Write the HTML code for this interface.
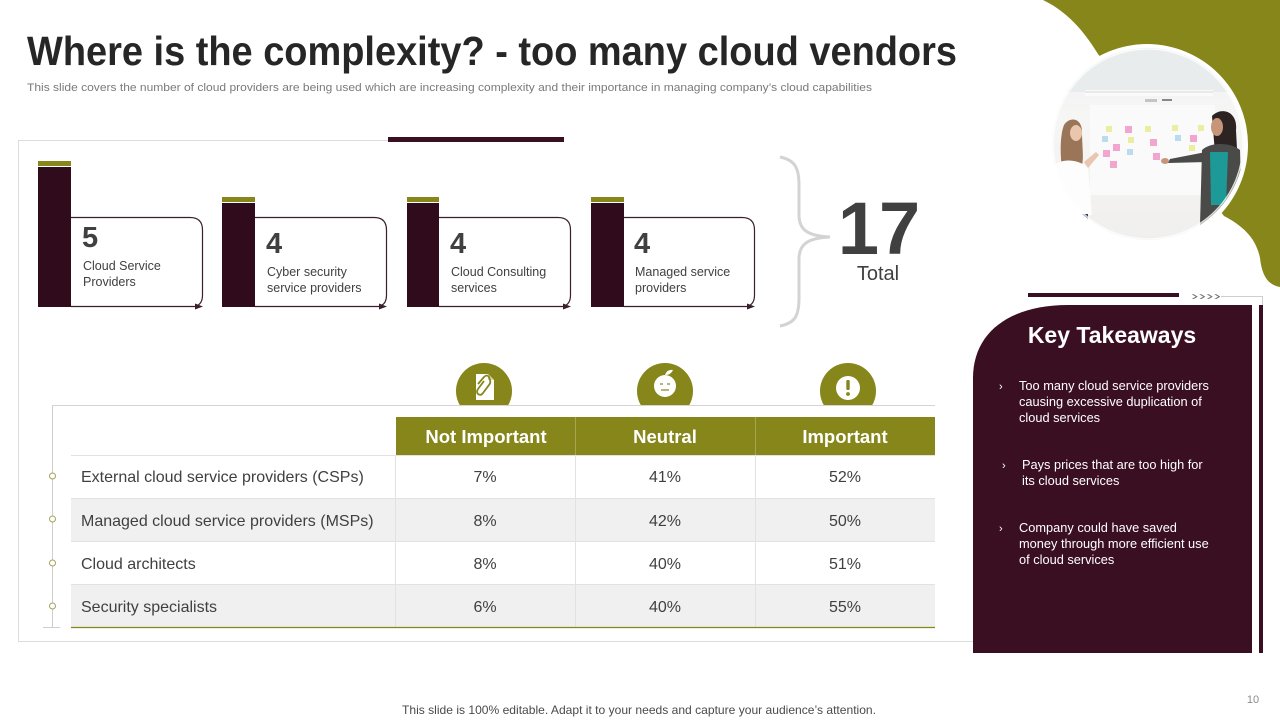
<!DOCTYPE html>
<html><head><meta charset="utf-8"><style>
html,body{margin:0;padding:0;background:#fff;}
body{width:1280px;height:720px;overflow:hidden;}
svg{display:block;}
</style></head><body>
<svg width="1280" height="720" viewBox="0 0 1280 720" xmlns="http://www.w3.org/2000/svg" font-family="'Liberation Sans', Arial, sans-serif">
<defs>
<clipPath id="ph"><circle cx="1148" cy="144" r="96"/></clipPath>
<clipPath id="ic"><rect x="0" y="0" width="1280" height="405"/></clipPath>
<linearGradient id="pg" x1="0" y1="0" x2="0" y2="1">
<stop offset="0" stop-color="#eef0f0"/><stop offset="0.35" stop-color="#f6f6f5"/><stop offset="1" stop-color="#efeeed"/>
</linearGradient>
</defs>

<!-- olive blob -->
<path d="M1043,0 L1280,0 L1280,287 C1268,285 1262,276 1260,258 C1256,238 1243,226 1224,216 L1098,54 C1088,38 1072,14 1043,0 Z" fill="#86861b"/>
<circle cx="1147" cy="145" r="101" fill="#fff"/>
<g clip-path="url(#ph)">
<rect x="1040" y="40" width="220" height="220" fill="url(#pg)"/>
<rect x="1040" y="40" width="220" height="52" fill="#e8ecec"/>
<rect x="1085" y="90" width="128" height="6" fill="#fafafa"/>
<line x1="1085" y1="92" x2="1213" y2="92" stroke="#d6d9da" stroke-width="1"/>
<rect x="1145" y="99" width="12" height="3" fill="#c4c4c4"/>
<rect x="1162" y="99" width="10" height="2" fill="#888"/>
<rect x="1090" y="105" width="125" height="90" fill="#fafafa"/>
<g fill="#f2a6cf">
<rect x="1125" y="126" width="7" height="7"/><rect x="1113" y="144" width="7" height="7"/><rect x="1103" y="150" width="7" height="7"/><rect x="1110" y="161" width="7" height="7"/><rect x="1150" y="139" width="7" height="7"/><rect x="1153" y="153" width="7" height="7"/><rect x="1190" y="135" width="7" height="7"/>
</g>
<g fill="#e9ef9f">
<rect x="1106" y="126" width="6" height="6"/><rect x="1128" y="137" width="6" height="6"/><rect x="1145" y="126" width="6" height="6"/><rect x="1172" y="125" width="6" height="6"/><rect x="1189" y="145" width="6" height="6"/><rect x="1198" y="125" width="6" height="6"/>
</g>
<g fill="#b9dcef">
<rect x="1102" y="136" width="6" height="6"/><rect x="1127" y="149" width="6" height="6"/><rect x="1175" y="135" width="6" height="6"/>
</g>
<!-- left woman -->
<path d="M1064,125 C1070,116 1082,118 1082,132 C1082,148 1085,162 1080,170 L1062,168 C1060,155 1060,135 1064,125 Z" fill="#9a7558"/>
<ellipse cx="1076" cy="133" rx="6" ry="8" fill="#e9c6ad"/>
<path d="M1052,168 C1058,158 1078,158 1088,168 L1092,215 L1050,218 Z" fill="#fdfdfd"/>
<path d="M1084,162 L1096,152 L1099,155 L1088,168 Z" fill="#e9c6ad"/>
<rect x="1070" y="214" width="18" height="30" fill="#35405a"/>
<!-- right woman -->
<path d="M1212,116 C1222,106 1238,112 1236,130 L1238,168 L1216,166 Z" fill="#2c2422"/>
<ellipse cx="1217" cy="127" rx="6" ry="9" fill="#c79577"/>
<path d="M1202,150 C1212,141 1232,143 1240,150 L1242,225 L1200,225 Z" fill="#4a4a48"/>
<path d="M1210,152 L1228,152 L1226,205 L1211,205 Z" fill="#1d9a97"/>
<path d="M1206,152 L1170,159 L1168,163 L1207,162 Z" fill="#4a4a48"/>
<ellipse cx="1165" cy="161" rx="4" ry="3" fill="#c79577"/>
</g>
<circle cx="1148" cy="144" r="95" fill="none" stroke="#fff" stroke-width="1.5" opacity="0.8"/>

<!-- title -->
<text x="27" y="65" font-size="41" font-weight="bold" fill="#262626" textLength="930" lengthAdjust="spacingAndGlyphs">Where is the complexity? - too many cloud vendors</text>
<text x="27" y="91" font-size="11" fill="#7a7a7a" textLength="845" lengthAdjust="spacingAndGlyphs">This slide covers the number of cloud providers are being used which are increasing complexity and their importance in managing company’s cloud capabilities</text>

<!-- outer panel -->
<line x1="18" y1="140.5" x2="388" y2="140.5" stroke="#dcdcdc" stroke-width="1"/>
<line x1="18.5" y1="140" x2="18.5" y2="641" stroke="#dcdcdc" stroke-width="1"/>
<line x1="18" y1="641.5" x2="975" y2="641.5" stroke="#dcdcdc" stroke-width="1"/>
<rect x="388" y="137" width="176" height="5" fill="#3a0f22"/>

<!-- cards -->
<g stroke="#3a1f2c" stroke-width="1.2" fill="none">
<path d="M71,217.5 H190 Q202.5,217.5 202.5,230 V295 Q202.5,304 196,306"/>
<path d="M255,217.5 H374 Q386.5,217.5 386.5,230 V295 Q386.5,304 380,306"/>
<path d="M439,217.5 H558 Q570.5,217.5 570.5,230 V295 Q570.5,304 564,306"/>
<path d="M624,217.5 H742 Q754.5,217.5 754.5,230 V295 Q754.5,304 748,306"/>
<line x1="71" y1="306.5" x2="197" y2="306.5"/>
<line x1="255" y1="306.5" x2="381" y2="306.5"/>
<line x1="439" y1="306.5" x2="565" y2="306.5"/>
<line x1="624" y1="306.5" x2="749" y2="306.5"/>
</g>
<g fill="#3a1f2c">
<polygon points="195,303.5 203,306.5 195,309.5"/>
<polygon points="379,303.5 387,306.5 379,309.5"/>
<polygon points="563,303.5 571,306.5 563,309.5"/>
<polygon points="747,303.5 755,306.5 747,309.5"/>
</g>
<g fill="#86861b">
<rect x="38" y="161" width="33" height="5"/>
<rect x="222" y="197" width="33" height="5"/>
<rect x="407" y="197" width="32" height="5"/>
<rect x="591" y="197" width="33" height="5"/>
</g>
<g fill="#2f0b1b">
<rect x="38" y="167" width="33" height="140"/>
<rect x="222" y="203" width="33" height="104"/>
<rect x="407" y="203" width="32" height="104"/>
<rect x="591" y="203" width="33" height="104"/>
</g>
<g font-weight="bold" font-size="29" fill="#404040">
<text x="82" y="247">5</text>
<text x="266" y="253">4</text>
<text x="450" y="253">4</text>
<text x="634" y="253">4</text>
</g>
<g font-size="12.5" fill="#404040">
<text x="83" y="270">Cloud Service</text><text x="83" y="286">Providers</text>
<text x="267" y="276">Cyber security</text><text x="267" y="292">service providers</text>
<text x="451" y="276">Cloud Consulting</text><text x="451" y="292">services</text>
<text x="635" y="276">Managed service</text><text x="635" y="292">providers</text>
</g>

<!-- brace -->
<path d="M780,157 C795,160 799,168 799,185 V215 C799,230 808,236 830,237 C808,238 799,244 799,259 V298 C799,316 795,323 780,326" stroke="#d3d3d3" stroke-width="3" fill="none"/>
<text x="879" y="254" font-size="74" font-weight="bold" fill="#404040" text-anchor="middle">17</text>
<text x="878" y="280" font-size="20" fill="#404040" text-anchor="middle">Total</text>

<!-- table icons -->
<g clip-path="url(#ic)" fill="#86861b">
<circle cx="484" cy="391" r="28"/>
<circle cx="665" cy="391" r="28"/>
<circle cx="848" cy="391" r="28"/>
</g>
<path d="M476,374 H488 L494,380 V400 H476 Z" fill="#fff"/>
<path d="M488,374 V380 H494" fill="#d8d8b0"/>
<path d="M478,384 L484,377 Q487,374 489,377 L490,380 Q491,383 489,385 L483,393 Q481,396 478,394 Q476,392 478,389 L484,381" stroke="#86861b" stroke-width="1.8" fill="none"/>
<circle cx="665" cy="386" r="11" fill="#fff"/>
<path d="M665,375 Q667,369 673,370 Q671,375 665,375 Z" fill="#fff"/>
<line x1="660" y1="384" x2="663" y2="384" stroke="#86861b" stroke-width="1.2"/>
<line x1="667" y1="384" x2="670" y2="384" stroke="#86861b" stroke-width="1.2"/>
<line x1="661" y1="390" x2="669" y2="390" stroke="#86861b" stroke-width="1.2"/>
<circle cx="848" cy="388" r="12" fill="#fff"/>
<rect x="846.3" y="380" width="3.4" height="10" rx="1" fill="#86861b"/>
<circle cx="848" cy="394" r="1.9" fill="#86861b"/>

<line x1="52" y1="405.5" x2="935" y2="405.5" stroke="#d4d4d4" stroke-width="1"/>
<line x1="52.5" y1="405" x2="52.5" y2="628" stroke="#cfcfcf" stroke-width="1"/>
<line x1="43" y1="627.5" x2="60" y2="627.5" stroke="#cfcfcf" stroke-width="1"/>

<rect x="396" y="417" width="539" height="38" fill="#86861b"/>
<line x1="575.5" y1="417" x2="575.5" y2="455" stroke="#a5a552" stroke-width="1"/>
<line x1="755.5" y1="417" x2="755.5" y2="455" stroke="#a5a552" stroke-width="1"/>
<g font-size="18.5" font-weight="bold" fill="#fff" text-anchor="middle">
<text x="486" y="443">Not Important</text>
<text x="665" y="443">Neutral</text>
<text x="845" y="443">Important</text>
</g>

<rect x="71" y="498" width="864" height="43" fill="#f0f0f0"/>
<rect x="71" y="584" width="864" height="43" fill="#f0f0f0"/>
<g stroke="#e2e2e2" stroke-width="1">
<line x1="71" y1="455.5" x2="935" y2="455.5"/>
<line x1="71" y1="498.5" x2="935" y2="498.5"/>
<line x1="71" y1="541.5" x2="935" y2="541.5"/>
<line x1="71" y1="584.5" x2="935" y2="584.5"/>
<line x1="395.5" y1="455" x2="395.5" y2="627"/>
<line x1="575.5" y1="455" x2="575.5" y2="627"/>
<line x1="755.5" y1="455" x2="755.5" y2="627"/>
</g>
<line x1="71" y1="627.5" x2="935" y2="627.5" stroke="#86861b" stroke-width="1.3"/>
<g fill="#fff" stroke="#a3a35a" stroke-width="1">
<circle cx="52.5" cy="476" r="3"/>
<circle cx="52.5" cy="519" r="3"/>
<circle cx="52.5" cy="563" r="3"/>
<circle cx="52.5" cy="606" r="3"/>
</g>
<g font-size="16" fill="#404040">
<text x="81" y="482">External cloud service providers (CSPs)</text>
<text x="81" y="526">Managed cloud service providers (MSPs)</text>
<text x="81" y="569">Cloud architects</text>
<text x="81" y="612">Security specialists</text>
</g>
<g font-size="16" fill="#404040" text-anchor="middle">
<text x="485" y="482">7%</text><text x="665" y="482">41%</text><text x="845" y="482">52%</text>
<text x="485" y="526">8%</text><text x="665" y="526">42%</text><text x="845" y="526">50%</text>
<text x="485" y="569">8%</text><text x="665" y="569">40%</text><text x="845" y="569">51%</text>
<text x="485" y="612">6%</text><text x="665" y="612">40%</text><text x="845" y="612">55%</text>
</g>

<!-- key takeaways -->
<rect x="1028" y="293" width="151" height="4" fill="#3a0f22"/>
<text x="1191" y="300" font-size="12" fill="#777" textLength="30" lengthAdjust="spacingAndGlyphs">››››</text>
<polyline points="1221,296.5 1262.5,296.5 1262.5,305" stroke="#cfcfcf" stroke-width="1" fill="none"/>
<path d="M973,653 V378 C973,332 1010,305 1068,305 H1252 V653 Z" fill="#3b0f22"/>
<rect x="1259" y="305" width="4" height="348" fill="#3b0f22"/>
<text x="1112" y="343" font-size="23" font-weight="bold" fill="#fff" text-anchor="middle">Key Takeaways</text>
<g font-size="12.8" fill="#fff">
<text x="999" y="390" font-size="11">›</text>
<text x="1019" y="390">Too many cloud service providers</text>
<text x="1019" y="406">causing excessive duplication of</text>
<text x="1019" y="422">cloud services</text>
<text x="1002" y="469" font-size="11">›</text>
<text x="1022" y="469">Pays prices that are too high for</text>
<text x="1022" y="485">its cloud services</text>
<text x="999" y="532" font-size="11">›</text>
<text x="1019" y="532">Company could have saved</text>
<text x="1019" y="548">money through more efficient use</text>
<text x="1019" y="564">of cloud services</text>
</g>

<!-- footer -->
<text x="639" y="714" font-size="12" fill="#4a4a4a" text-anchor="middle" textLength="474" lengthAdjust="spacingAndGlyphs">This slide is 100% editable. Adapt it to your needs and capture your audience’s attention.</text>
<text x="1253" y="703" font-size="11" fill="#8a8a8a" text-anchor="middle">10</text>
</svg>
</body></html>
